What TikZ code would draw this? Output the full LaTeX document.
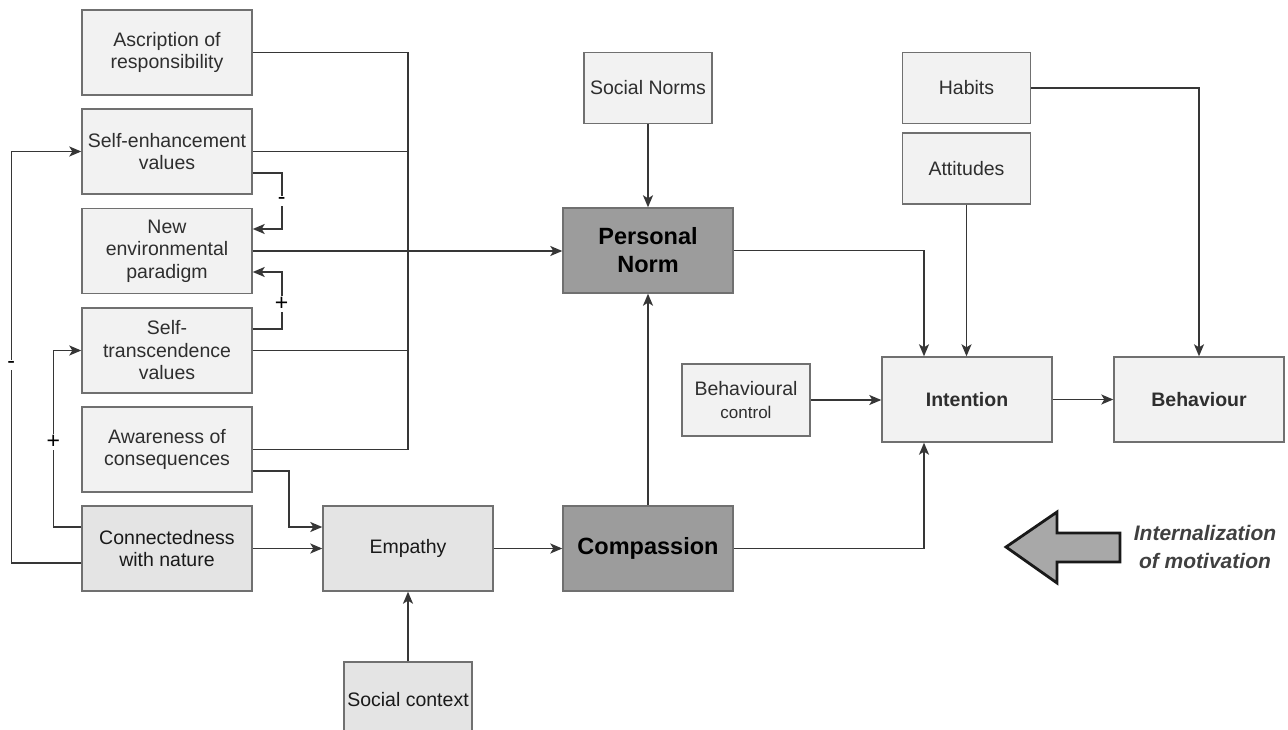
\documentclass[tikz,border=0pt]{standalone}
\usepackage{fontspec}
\setmainfont{Liberation Sans}
\usetikzlibrary{arrows.meta}
\definecolor{boxlight}{HTML}{F2F2F2}
\definecolor{boxmid}{HTML}{E4E4E4}
\definecolor{boxdark}{HTML}{9C9C9C}
\definecolor{boxborder}{HTML}{707070}
\definecolor{linecol}{HTML}{363636}
\definecolor{txt}{HTML}{2E2E2E}
\definecolor{arrowgray}{HTML}{A8A8A8}
\begin{document}
\begin{tikzpicture}[x=1pt,y=-1pt,
  box/.style={draw=boxborder, line width=1.4pt, fill=boxlight, minimum width=170pt,
    minimum height=85pt, align=center, font=\fontsize{19.5}{22.5}\selectfont, text=txt, inner sep=2pt},
  smallbox/.style={box, minimum width=128pt, minimum height=71pt},
  midbox/.style={box, fill=boxmid, text=black!90},
  darkbox/.style={box, fill=boxdark, text=black, font=\fontsize{23.5}{28}\selectfont\bfseries},
  boldbox/.style={box, font=\fontsize{19.5}{22.5}\selectfont\bfseries},
  conn/.style={draw=linecol, line width=1.6pt, -{Stealth[length=12pt, width=10pt, inset=3pt]}},
  plain/.style={draw=linecol, line width=1.6pt},
  lbl/.style={fill=white, inner sep=1.5pt, font=\fontsize{23}{24}\selectfont, text=black}
]
\useasboundingbox (0,0) rectangle (1288,730);
\clip (0,0) rectangle (1288,730);

% left column
\node[box] (asc) at (167,52.5) {Ascription of\\responsibility};
\node[box] (senh) at (167,151.5) {Self-enhancement\\values};
\node[box] (nep) at (167,251) {New\\environmental\\paradigm};
\node[box] (strans) at (167,350.5) {Self-\\transcendence\\values};
\node[box] (aware) at (167,449.5) {Awareness of\\consequences};
\node[midbox] (conn) at (167,548.5) {Connectedness\\with nature};

% middle
\node[midbox] (emp) at (408,548.5) {Empathy};
\node[midbox, minimum width=128pt, minimum height=75pt] (soc) at (408,699.5) {Social context};
\node[darkbox] (comp) at (648,548.5) {Compassion};
\node[darkbox] (pn) at (648,250.5) {Personal\\Norm};
\node[smallbox] (sn) at (648,88) {Social Norms};

% right
\node[smallbox] (hab) at (966.5,88) {Habits};
\node[smallbox] (att) at (966.5,168.5) {Attitudes};
\node[smallbox, minimum height=72pt] (bc) at (746,400) {Behavioural\\{\fontsize{17}{20}\selectfont control}};
\node[boldbox] (int) at (967,399.5) {Intention};
\node[boldbox] (beh) at (1199,399.5) {Behaviour};

% bus on the left
\coordinate (busb) at (408,449.5);
\draw[plain] (asc.east) -| (busb) -- (aware.east);
\draw[plain] (senh.east) -- (senh.east -| busb);
\draw[plain] (strans.east) -- (strans.east -| busb);
\draw[conn] (nep.east) -- (nep.east -| pn.west);

% feedback between values
\draw[conn] ([yshift=-21.5pt]senh.east) -- ++(29,0) |- node[lbl, pos=0.25]{-} ([yshift=22pt]nep.east);
\draw[conn] ([yshift=21.5pt]strans.east) -- ++(29,0) |- node[lbl, pos=0.22]{+} ([yshift=-21pt]nep.east);
\draw[conn] ([yshift=21.5pt]conn.west) -- ++(-28,0) |- node[lbl, pos=0.24]{+} (strans.west);
\draw[conn] ([yshift=-14.5pt]conn.west) -- ++(-70,0) |- node[lbl, pos=0.24]{-} (senh.west);

% to empathy
\draw[conn] ([yshift=-21.5pt]aware.east) -- ++(36,0) |- ([yshift=21.5pt]emp.west);
\draw[conn] (conn.east) -- (emp.west);
\draw[conn] (soc.north) -- (emp.south);
\draw[conn] (emp.east) -- (comp.west);
\draw[conn] (comp.north) -- (pn.south);
\draw[conn] (sn.south) -- (pn.north);

% to intention
\draw[conn] (pn.east) -| ([xshift=-43pt]int.north);
\draw[conn] (att.south) -- (att.south |- int.north);
\draw[conn] (comp.east) -| ([xshift=-43pt]int.south);
\draw[conn] (bc.east) -- (bc.east -| int.west);
\draw[conn] (int.east) -- (beh.west);
\draw[conn] (hab.east) -| (beh.north);

% internalization arrow
\draw[line width=2.8pt, fill=arrowgray, line join=miter, draw=black!90]
  (1006,547) -- (1057,512) -- (1057,533) -- (1120,533) -- (1120,562) -- (1057,562) -- (1057,583) -- cycle;
\node[align=center, text=black!75, font=\fontsize{21}{28}\selectfont\bfseries\itshape] (intlab) at (1205,547) {Internalization\\of motivation};
\end{tikzpicture}
\end{document}
